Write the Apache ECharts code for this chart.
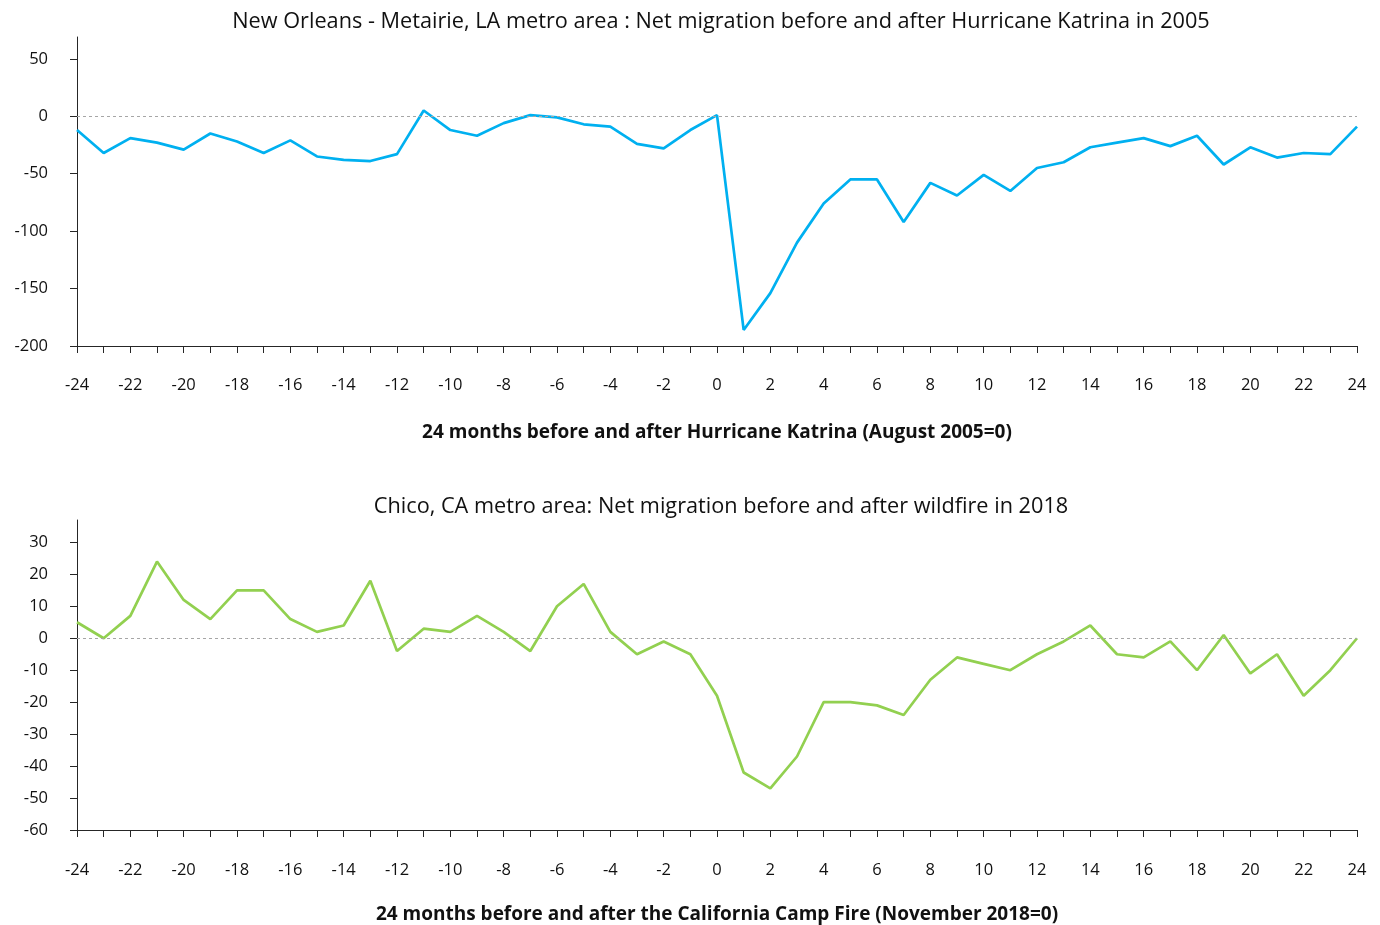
<!DOCTYPE html>
<html>
<head>
<meta charset="utf-8">
<script src="https://cdn.jsdelivr.net/npm/echarts@6/dist/echarts.min.js"></script>
<style>
html,body{margin:0;padding:0;background:#fff;}
#chart{width:1380px;height:925px;}
</style>
</head>
<body>
<div id="chart"></div>
<script>
// Months relative to disaster
const months = [-24,-23,-22,-21,-20,-19,-18,-17,-16,-15,-14,-13,-12,-11,-10,-9,-8,-7,-6,-5,-4,-3,-2,-1,0,
  1,2,3,4,5,6,7,8,9,10,11,12,13,14,15,16,17,18,19,20,21,22,23,24];

// New Orleans - Metairie net migration
const katrina = [-12,-32,-19,-23,-29,-15,-22,-32,-21,-35,-38,-39,-33,5,-12,-17,-6,1,-1,-7,-9,-24,-28,-12,1,
  -186,-154,-110,-76,-55,-55,-92,-58,-69,-51,-65,-45,-40,-27,-23,-19,-26,-17,-42,-27,-36,-32,-33,-9];

// Chico net migration
const chico = [5,0,7,24,12,6,15,15,6,2,4,18,-4,3,2,7,2,-4,10,17,2,-5,-1,-5,-18,
  -42,-47,-37,-20,-20,-21,-24,-13,-6,-8,-10,-5,-1,4,-5,-6,-1,-10,1,-11,-5,-18,-10,0];

const topTicks = [-200,-150,-100,-50,0,50];
const bottomTicks = [-60,-50,-40,-30,-20,-10,0,10,20,30];

const titles = [
  'New Orleans - Metairie, LA metro area : Net migration before and after Hurricane Katrina in 2005',
  'Chico, CA metro area: Net migration before and after wildfire in 2018'
];
const xNames = [
  '24 months before and after Hurricane Katrina (August 2005=0)',
  '24 months before and after the California Camp Fire (November 2018=0)'
];

const FONT = 'Open Sans';
const axisColor = '#262626';

function xAxisCfg(gi, name, gap, margin) {
  return {
    type: 'value', gridIndex: gi, min: -24, max: 24, interval: 2,
    name: name, nameLocation: 'middle', nameGap: gap,
    nameTextStyle: {fontFamily: FONT, fontSize: 19, fontWeight: 'bold', color: '#111'},
    axisLine: {onZero: false, lineStyle: {color: axisColor, width: 1}},
    axisTick: {show: true, length: 7, inside: false, customValues: months, lineStyle: {color: axisColor}},
    axisLabel: {margin: margin, fontFamily: FONT, fontSize: 16.5, color: '#111'},
    splitLine: {show: false}
  };
}
function yAxisCfg(gi, min, max, ticks) {
  return {
    type: 'value', gridIndex: gi, min: min, max: max,
    axisLine: {show: true, onZero: false, lineStyle: {color: axisColor, width: 1}},
    axisTick: {show: true, length: 7, customValues: ticks, lineStyle: {color: axisColor}},
    axisLabel: {margin: 29, fontFamily: FONT, fontSize: 16.5, color: '#111', customValues: ticks},
    splitLine: {show: false}
  };
}
function zeroLine() {
  return {
    silent: true, symbol: ['none','none'], label: {show: false},
    lineStyle: {type: [3,3], color: '#a6a6a6', width: 1},
    data: [{yAxis: 0}]
  };
}

const chart = echarts.init(document.getElementById('chart'), null, {renderer: 'canvas'});
chart.setOption({
  animation: false,
  backgroundColor: '#fff',
  textStyle: {fontFamily: FONT},
  title: [
    {text: titles[0], left: 716, top: 6, textAlign: 'center',
     textStyle: {fontFamily: FONT, fontSize: 21.7, fontWeight: 'normal', color: '#111'}},
    {text: titles[1], left: 716, top: 491, textAlign: 'center',
     textStyle: {fontFamily: FONT, fontSize: 21.7, fontWeight: 'normal', color: '#111'}}
  ],
  grid: [
    {left: 77, right: 23, top: 37, bottom: 579, containLabel: false},
    {left: 77, right: 23, top: 520, bottom: 81, containLabel: false}
  ],
  xAxis: [xAxisCfg(0, xNames[0], 77, 31), xAxisCfg(1, xNames[1], 75, 32)],
  yAxis: [yAxisCfg(0, -200, 69, topTicks), yAxisCfg(1, -60, 37, bottomTicks)],
  series: [
    {type: 'line', xAxisIndex: 0, yAxisIndex: 0, data: months.map((m,i)=>[m, katrina[i]]),
     showSymbol: false, lineStyle: {color: '#00B0F0', width: 2.7}, itemStyle: {color: '#00B0F0'},
     markLine: zeroLine(), z: 3},
    {type: 'line', xAxisIndex: 1, yAxisIndex: 1, data: months.map((m,i)=>[m, chico[i]]),
     showSymbol: false, lineStyle: {color: '#92D050', width: 2.7}, itemStyle: {color: '#92D050'},
     markLine: zeroLine(), z: 3}
  ]
});
</script>
</body>
</html>
